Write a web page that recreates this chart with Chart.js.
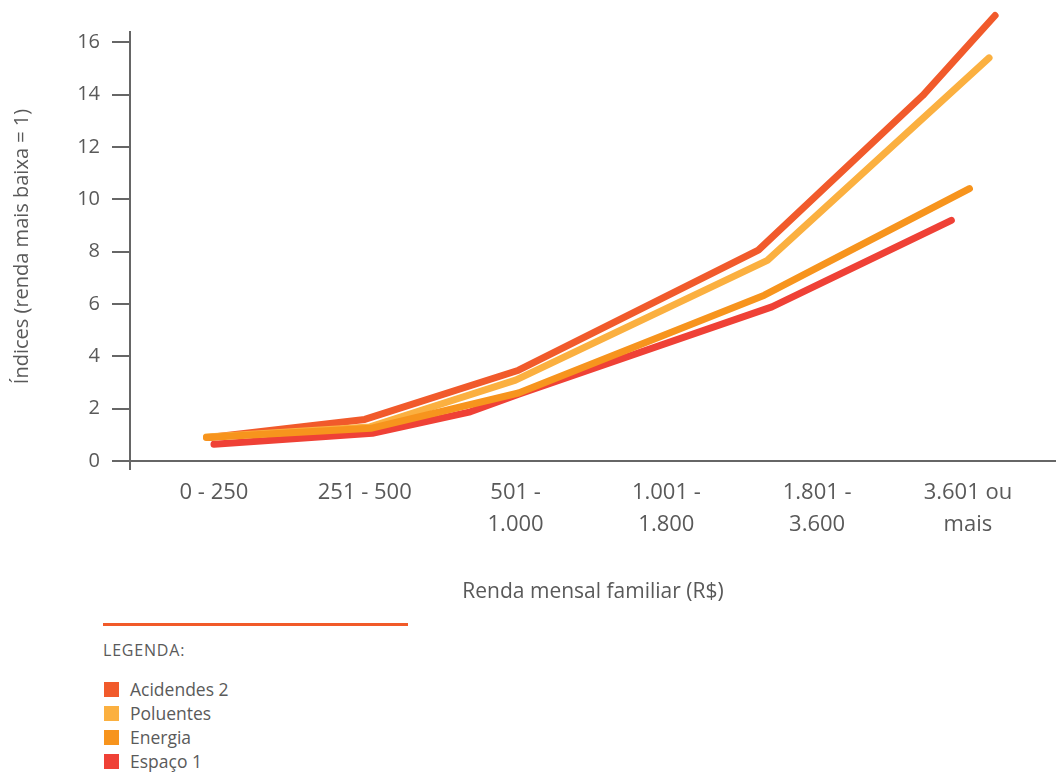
<!DOCTYPE html>
<html>
<head>
<meta charset="utf-8">
<script src="https://cdn.jsdelivr.net/npm/chart.js@4.4.1/dist/chart.umd.min.js"></script>
<style>
  body { margin: 0; background: #fff; font-family: "Open Sans", sans-serif; }
  #wrap { position: relative; width: 1056px; height: 780px; }
  #grafico { position: absolute; left: 0; top: 0; }
  #legenda { position: absolute; left: 103px; top: 623px; color: #5a5a5a; }
  #legenda .linha { width: 305px; height: 3px; background: #f15a29; }
  #legenda .titulo { font-size: 16px; margin-top: 13px; letter-spacing: 0.8px; }
  #legenda .item { font-size: 17.5px; height: 24px; line-height: 24px; display: flex; align-items: center; }
  #legenda .item span { display: inline-block; width: 15px; height: 15px; margin-right: 11px; margin-left: 1px; }
  #legenda .itens { margin-top: 16px; }
</style>
</head>
<body>
<div id="wrap">
  <canvas id="grafico" width="1056" height="610"></canvas>
  <div id="legenda">
    <div class="linha"></div>
    <div class="titulo">LEGENDA:</div>
    <div class="itens" id="itens"></div>
  </div>
</div>
<script>
// Faixas de renda (rótulos do eixo x, posição = índice)
const faixas = [
    ['0 - 250'],
    ['251 - 500'],
    ['501 -', '1.000'],
    ['1.001 -', '1.800'],
    ['1.801 -', '3.600'],
    ['3.601 ou', 'mais']
];

// Séries (x em unidades de faixa)
const nomes = ['Acidendes 2', 'Poluentes', 'Energia', 'Espaço 1'];
const cores = ['#f15a2b', '#fbb040', '#f7941d', '#ef4136'];

const acidentesX = [-0.03, 1.00, 2.02, 3.61, 4.70, 5.18];
const acidentesY = [0.90, 1.59, 3.47, 8.06, 13.97, 17.03];

const poluentesX = [-0.05, 1.03, 2.00, 3.67, 5.14];
const poluentesY = [0.92, 1.30, 3.09, 7.67, 15.41];

const energiaX = [-0.05, 1.04, 2.02, 3.65, 5.01];
const energiaY = [0.90, 1.25, 2.60, 6.34, 10.41];

const espacoX = [0.00, 1.05, 1.70, 2.02, 3.70, 4.89];
const espacoY = [0.64, 1.06, 1.88, 2.55, 5.89, 9.20];

const textoCor = '#595959';
const eixoCor = '#666666';

function pontos(xs, ys) {
    return xs.map((x, i) => ({ x: x, y: ys[i] }));
}

function serie(idx, xs, ys, ordem) {
    return {
        label: nomes[idx],
        data: pontos(xs, ys),
        borderColor: cores[idx],
        backgroundColor: cores[idx],
        borderWidth: 7,
        borderCapStyle: 'round',
        borderJoinStyle: 'round',
        pointRadius: 0,
        tension: 0,
        clip: false,
        order: ordem
    };
}

// Prolonga o eixo y um pouco abaixo do eixo x
const tocoEixo = {
    id: 'tocoEixo',
    afterDraw(chart) {
        const ctx = chart.ctx;
        const a = chart.chartArea;
        ctx.save();
        ctx.strokeStyle = eixoCor;
        ctx.lineWidth = 2;
        ctx.beginPath();
        ctx.moveTo(a.left, a.bottom);
        ctx.lineTo(a.left, a.bottom + 9);
        ctx.stroke();
        ctx.restore();
    }
};

const ctx = document.getElementById('grafico').getContext('2d');
new Chart(ctx, {
    type: 'line',
    data: {
        datasets: [
            serie(0, acidentesX, acidentesY, 2),
            serie(1, poluentesX, poluentesY, 1),
            serie(2, energiaX, energiaY, 0),
            serie(3, espacoX, espacoY, 3)
        ]
    },
    options: {
        responsive: false,
        animation: false,
        layout: { padding: { top: 32, right: 0, left: 0, bottom: 0 } },
        plugins: {
            legend: { display: false },
            tooltip: { enabled: false }
        },
        scales: {
            x: {
                type: 'linear',
                min: -0.557,
                max: 5.584,
                afterFit: s => { s.height = 149; },
                afterBuildTicks: s => {
                    s.ticks = faixas.map((f, i) => ({ value: i }));
                },
                grid: { display: false, drawTicks: false },
                border: { display: true, color: eixoCor, width: 2 },
                ticks: {
                    color: textoCor,
                    padding: 16,
                    maxRotation: 0,
                    autoSkip: false,
                    font: { family: 'Open Sans', size: 22, lineHeight: 32 / 22 },
                    callback: v => faixas[v]
                },
                title: {
                    display: true,
                    text: 'Renda mensal familiar (R$)',
                    color: textoCor,
                    font: { family: 'Open Sans', size: 21 },
                    padding: { top: 0, bottom: 5 }
                }
            },
            y: {
                min: 0,
                max: 16.4,
                afterFit: s => { s.width = 130; },
                grid: {
                    drawOnChartArea: false,
                    drawTicks: true,
                    tickLength: 18,
                    color: eixoCor,
                    lineWidth: 2
                },
                border: { display: true, color: eixoCor, width: 2 },
                ticks: {
                    stepSize: 2,
                    includeBounds: false,
                    color: textoCor,
                    padding: 12,
                    font: { family: 'Open Sans', size: 20 }
                },
                title: {
                    display: true,
                    text: 'Índices (renda mais baixa = 1)',
                    color: textoCor,
                    font: { family: 'Open Sans', size: 20 },
                    padding: { top: 10, bottom: 0 }
                }
            }
        }
    },
    plugins: [tocoEixo]
});

// Legenda em HTML a partir dos mesmos arrays
const itens = document.getElementById('itens');
nomes.forEach((nome, i) => {
    const div = document.createElement('div');
    div.className = 'item';
    div.innerHTML = `<span style="background:${cores[i]}"></span>${nome}`;
    itens.appendChild(div);
});
</script>
</body>
</html>
